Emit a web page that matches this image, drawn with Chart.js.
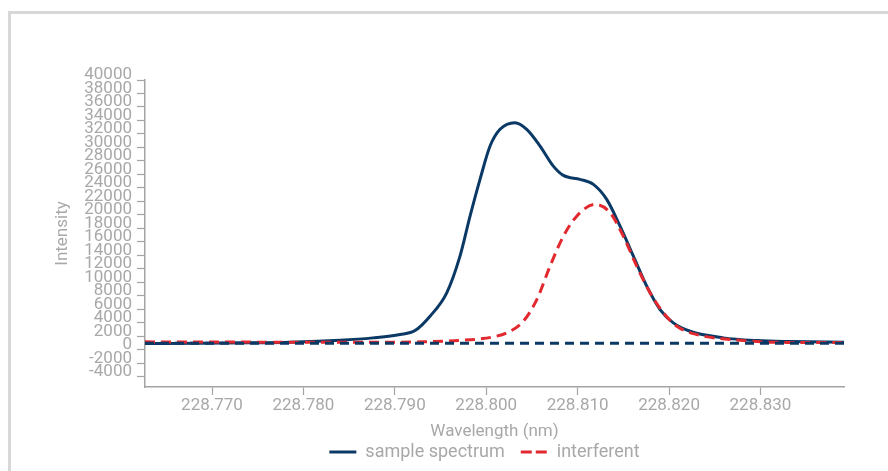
<!DOCTYPE html>
<html>
<head>
<meta charset="utf-8">
<script src="https://cdn.jsdelivr.net/npm/chart.js@4/dist/chart.umd.min.js"></script>
<style>
  html, body { margin: 0; padding: 0; background: #fff; overflow: hidden; }
  #frame {
    position: absolute; left: 8px; top: 11px; width: 2000px; height: 2000px;
    border-left: 3px solid #d8d8d8; border-top: 3px solid #d8d8d8;
  }
  #wrap { position: absolute; left: 0; top: 0; width: 888px; height: 471px; }
</style>
</head>
<body>
<div id="frame"></div>
<div id="wrap"><canvas id="chart" width="888" height="471"></canvas></div>
<script>
// Wavelength axis (nm) and tick labels
const wlMin = 228.76267;
const wlMax = 228.83914;
const wlTicks = [228.770, 228.780, 228.790, 228.800, 228.810, 228.820, 228.830];
const intensityTicks = [-4000, -2000, 0, 2000, 4000, 6000, 8000, 10000, 12000, 14000, 16000,
  18000, 20000, 22000, 24000, 26000, 28000, 30000, 32000, 34000, 36000, 38000, 40000];

// Sample spectrum
const sampleWl = [228.76267, 228.76869, 228.77416, 228.77853, 228.78400, 228.78761, 228.79057,
  228.79221, 228.79385, 228.79568, 228.79713, 228.79823, 228.79932, 228.80042, 228.80151,
  228.80315, 228.80443, 228.80589, 228.80734, 228.80844, 228.81026, 228.81172, 228.81318,
  228.81464, 228.81610, 228.81756, 228.81902, 228.82047, 228.82230, 228.82594, 228.82960,
  228.83324, 228.83914];
const sampleIntensity = [950, 980, 1040, 1130, 1420, 1780, 2270,
  2860, 4990, 8460, 13890, 19820, 25270, 30210, 32690,
  33680, 32690, 30210, 27240, 25860, 25270, 24530, 22300,
  18340, 13890, 9440, 5980, 4010, 2760, 1780, 1380,
  1230, 1120];

// Interferent
const interfWl = [228.76267, 228.77500, 228.78600, 228.79300, 228.79700, 228.79932, 228.80078,
  228.80224, 228.80406, 228.80553, 228.80698, 228.80844, 228.80990, 228.81190, 228.81355,
  228.81500, 228.81647, 228.81793, 228.81939, 228.82085, 228.82304, 228.82777, 228.83138,
  228.83914];
const interfIntensity = [1190, 1150, 1120, 1200, 1400, 1630, 1930,
  2520, 4240, 7460, 12400, 16850, 19820, 21560, 20330,
  16850, 12400, 8460, 5490, 3500, 2270, 1420, 1130,
  1080];

// Flat reference level
const baselineWl = [228.76267, 228.83914];
const baselineIntensity = [1000, 1000];

const navy = '#0b3966';
const red = '#e2292f';
const grey = '#a8a8a8';
const axisGrey = '#a3a3a3';
const family = 'Roboto, "Liberation Sans", sans-serif';
const tickFont = { family: family, size: 17 };
const titleFont = { family: family, size: 17 };
const legendFont = { family: family, size: 18 };

const toPoints = (xs, ys) => xs.map((x, i) => ({ x: x, y: ys[i] }));

// Nudges the centred legend row a little to the left
const legendShift = {
  id: 'legendShift',
  afterLayout(chart) {
    if (chart.legend) { chart.legend.left -= 20; }
  }
};

new Chart(document.getElementById('chart'), {
  type: 'line',
  plugins: [legendShift],
  data: {
    datasets: [
      {
        label: 'sample spectrum',
        data: toPoints(sampleWl, sampleIntensity),
        borderColor: navy,
        backgroundColor: navy,
        borderWidth: 3,
        pointRadius: 0,
        cubicInterpolationMode: 'monotone',
        order: 3
      },
      {
        label: 'interferent',
        data: toPoints(interfWl, interfIntensity),
        borderColor: red,
        backgroundColor: red,
        borderWidth: 3,
        borderDash: [10, 6],
        pointRadius: 0,
        cubicInterpolationMode: 'monotone',
        order: 2
      },
      {
        label: 'baseline',
        data: toPoints(baselineWl, baselineIntensity),
        borderColor: navy,
        borderWidth: 3,
        borderDash: [9, 6],
        pointRadius: 0,
        order: 1
      }
    ]
  },
  options: {
    responsive: false,
    animation: false,
    layout: { padding: { left: 0, right: 44, top: 80, bottom: 0 } },
    scales: {
      x: {
        type: 'linear',
        min: wlMin,
        max: wlMax,
        afterBuildTicks: (s) => { s.ticks = wlTicks.map(v => ({ value: v })); },
        afterFit: (s) => { s.height = 40; },
        border: { display: true, color: axisGrey, width: 1.5 },
        grid: { display: true, drawOnChartArea: false, drawTicks: true, tickLength: 8, color: axisGrey, tickWidth: 1.2 },
        ticks: {
          color: grey, font: tickFont, padding: 1, maxRotation: 0, autoSkip: false,
          callback: (v) => Number(v).toFixed(3)
        },
        title: { display: true, text: 'Wavelength (nm)', color: grey, font: titleFont, padding: { top: 0, bottom: -15 } }
      },
      y: {
        min: -5500,
        max: 40000,
        afterBuildTicks: (s) => { s.ticks = intensityTicks.map(v => ({ value: v })); },
        afterFit: (s) => { s.width = 145; },
        border: { display: true, color: axisGrey, width: 1.5 },
        grid: { display: true, drawOnChartArea: false, drawTicks: true, tickLength: 8, color: axisGrey, tickWidth: 1.2 },
        ticks: {
          color: grey, font: tickFont, padding: 5, labelOffset: -5, autoSkip: false,
          callback: (v) => String(v)
        },
        title: { display: true, text: 'Intensity', color: grey, font: titleFont, padding: { top: 53, bottom: 0 } }
      }
    },
    plugins: {
      tooltip: { enabled: false },
      legend: {
        position: 'bottom',
        fullSize: false,
        labels: {
          color: grey,
          font: legendFont,
          padding: 16,
          usePointStyle: true,
          pointStyle: 'line',
          pointStyleWidth: 27,
          filter: (item) => item.text !== 'baseline',
          sort: (a, b) => a.datasetIndex - b.datasetIndex,
          generateLabels: (chart) => {
            const items = Chart.defaults.plugins.legend.labels.generateLabels(chart);
            items.forEach(it => {
              it.lineWidth = 3;
              it.pointStyle = 'line';
              if (it.text === 'interferent') it.lineDash = [11, 4];
            });
            return items;
          }
        }
      }
    }
  }
});
</script>
</body>
</html>
